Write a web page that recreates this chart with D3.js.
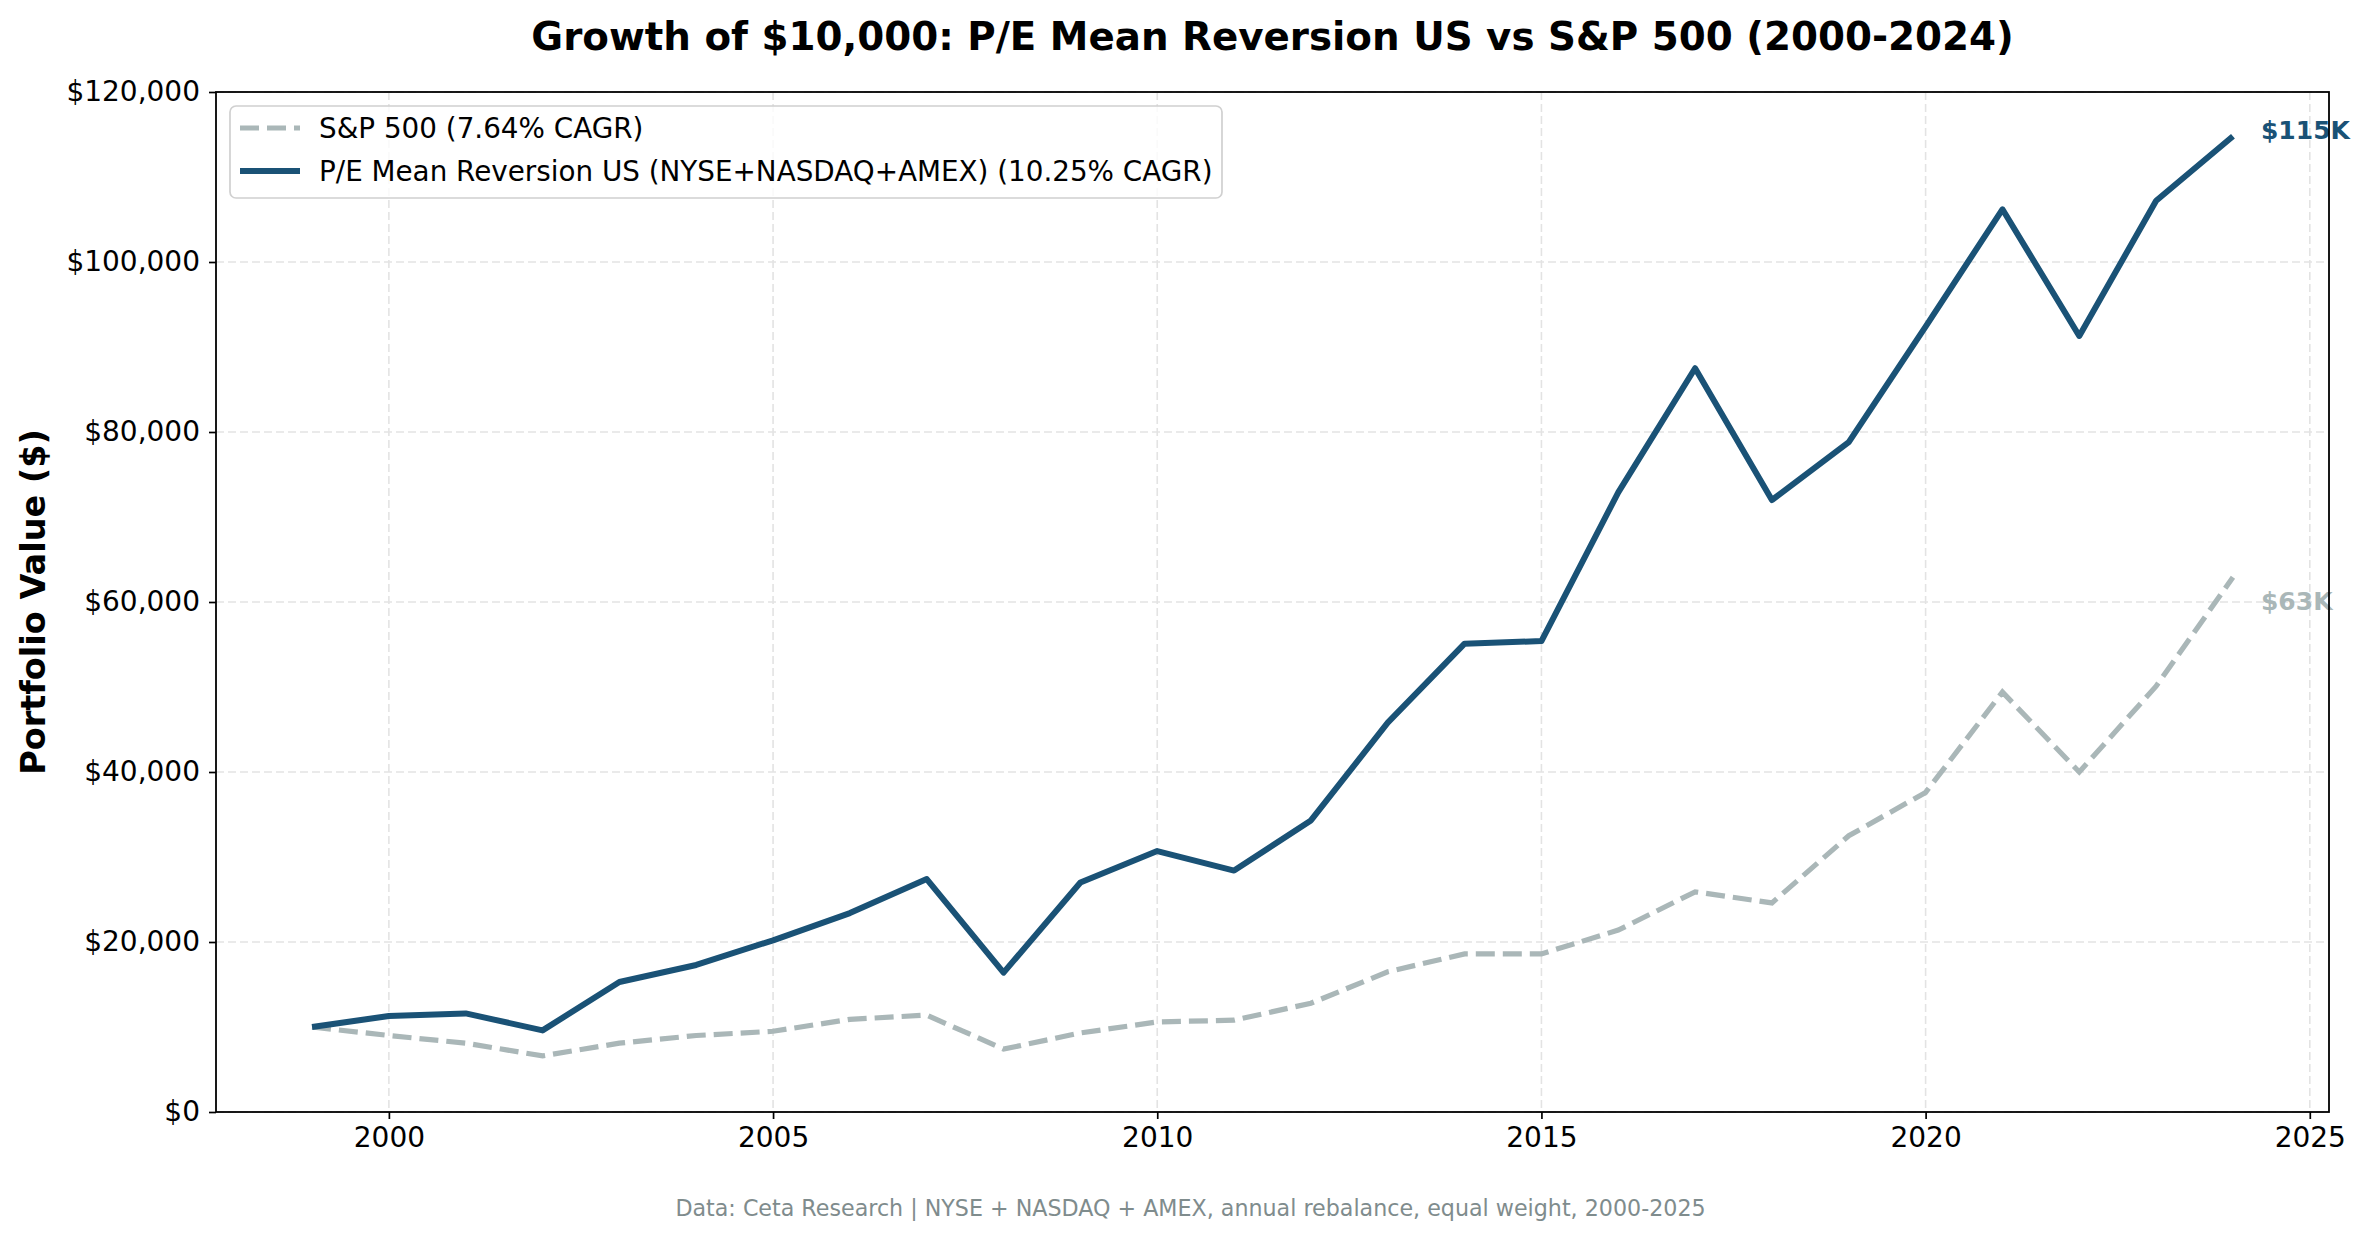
<!DOCTYPE html>
<html>
<head>
<meta charset="utf-8">
<script src="https://cdn.jsdelivr.net/npm/d3@7/dist/d3.min.js"></script>
<style>
    body { margin: 0; background: #fff; }
    svg { display: block; font-family: 'DejaVu Sans', sans-serif; }
</style>
</head>
<body>
<svg id="chart" width="2369" height="1239"></svg>
<script>
// values
const years = d3.range(1999, 2025)
const strategyValues = [
    10000, 11300, 11600, 9600, 15300, 17300, 20200, 23400, 27400, 16400,
    27000, 30700, 28400, 34300, 45800, 55100, 55400, 72900, 87500, 72000,
    78800, 92400, 106200, 91300, 107200, 114800
]
const spValues = [
    10000, 9000, 8100, 6600, 8100, 9000, 9500, 10900, 11400, 7400,
    9300, 10600, 10800, 12800, 16500, 18600, 18600, 21400, 25900, 24600,
    32500, 37600, 49400, 40000, 50100, 62900
]
const xTicks = [2000, 2005, 2010, 2015, 2020, 2025]
const yTicks = [0, 20000, 40000, 60000, 80000, 100000, 120000]
const seriesNames = ['S&P 500 (7.64% CAGR)', 'P/E Mean Reversion US (NYSE+NASDAQ+AMEX) (10.25% CAGR)']
const endLabels = ['$63K', '$115K']

const STRATEGY_COLOR = '#1a5276'
const SP_COLOR = '#aab7b8'
const GRID_COLOR = '#e3e3e3'

const margin = { top: 92, right: 40, bottom: 127, left: 216 }
const W = 2369, H = 1239
const plotW = W - margin.left - margin.right
const plotH = H - margin.top - margin.bottom

const svg = d3.select('#chart')

const x = d3.scaleLinear().domain([1997.75, 2025.25]).range([0, plotW])
const y = d3.scaleLinear().domain([0, 120000]).range([plotH, 0])

const g = svg.append('g').attr('transform', `translate(${margin.left},${margin.top})`)

// grid
g.append('g').selectAll('line')
    .data(xTicks)
    .join('line')
    .attr('x1', d => x(d)).attr('x2', d => x(d))
    .attr('y1', 0).attr('y2', plotH)
    .attr('stroke', GRID_COLOR).attr('stroke-width', 1.6)
    .attr('stroke-dasharray', '8,4')

g.append('g').selectAll('line')
    .data(yTicks)
    .join('line')
    .attr('x1', 0).attr('x2', plotW)
    .attr('y1', d => y(d)).attr('y2', d => y(d))
    .attr('stroke', GRID_COLOR).attr('stroke-width', 1.6)
    .attr('stroke-dasharray', '8,4')

// lines
const line = d3.line().x(d => x(d[0])).y(d => y(d[1]))

g.append('path')
    .datum(years.map((yr, i) => [yr, spValues[i]]))
    .attr('d', line)
    .attr('fill', 'none')
    .attr('stroke', SP_COLOR)
    .attr('stroke-width', 5.2)
    .attr('stroke-dasharray', '19,8')

g.append('path')
    .datum(years.map((yr, i) => [yr, strategyValues[i]]))
    .attr('d', line)
    .attr('fill', 'none')
    .attr('stroke', STRATEGY_COLOR)
    .attr('stroke-width', 6)
    .attr('stroke-linejoin', 'round')

// end labels
const lastYear = years[years.length - 1]
g.append('text')
    .attr('x', x(lastYear) + 28)
    .attr('y', y(strategyValues[strategyValues.length - 1]) - 6)
    .attr('dominant-baseline', 'central')
    .attr('font-size', 25).attr('font-weight', 'bold')
    .attr('fill', STRATEGY_COLOR)
    .text(endLabels[1])

g.append('text')
    .attr('x', x(lastYear) + 28)
    .attr('y', y(spValues[spValues.length - 1]) + 24)
    .attr('dominant-baseline', 'central')
    .attr('font-size', 25).attr('font-weight', 'bold')
    .attr('fill', SP_COLOR)
    .text(endLabels[0])

// axes
const xAxis = g.append('g')
    .attr('transform', `translate(0,${plotH})`)
    .call(d3.axisBottom(x).tickValues(xTicks).tickFormat(d3.format('d')).tickSizeOuter(0).tickSize(7).tickPadding(8))
const yAxis = g.append('g')
    .call(d3.axisLeft(y).tickValues(yTicks).tickFormat(d => '$' + d3.format(',')(d)).tickSizeOuter(0).tickSize(7).tickPadding(9))

;[xAxis, yAxis].forEach(a => {
    a.select('.domain').remove()
    a.selectAll('.tick line').attr('stroke', '#000').attr('stroke-width', 1.7)
    a.selectAll('.tick text').attr('font-size', 28).attr('fill', '#000')
        .attr('font-family', 'DejaVu Sans')
})

// frame
g.append('rect')
    .attr('width', plotW).attr('height', plotH)
    .attr('fill', 'none').attr('stroke', '#000').attr('stroke-width', 1.8)

// legend
const legend = g.append('g').attr('transform', 'translate(14,14)')
legend.append('rect')
    .attr('width', 992).attr('height', 92).attr('rx', 6)
    .attr('fill', 'rgba(255,255,255,0.8)')
    .attr('stroke', '#d0d0d0').attr('stroke-width', 1.7)

const legendRows = [
    { name: seriesNames[0], color: SP_COLOR, dash: '19,8', width: 5.2 },
    { name: seriesNames[1], color: STRATEGY_COLOR, dash: null, width: 6 }
]
legendRows.forEach((row, i) => {
    const ry = 22 + i * 43
    legend.append('line')
        .attr('x1', 10).attr('x2', 70)
        .attr('y1', ry).attr('y2', ry)
        .attr('stroke', row.color).attr('stroke-width', row.width)
        .attr('stroke-dasharray', row.dash)
    legend.append('text')
        .attr('x', 89).attr('y', ry)
        .attr('dominant-baseline', 'central')
        .attr('font-size', 27.8)
        .text(row.name)
})

// titles
svg.append('text')
    .attr('x', margin.left + plotW / 2).attr('y', 50)
    .attr('text-anchor', 'middle')
    .attr('font-size', 38.8).attr('font-weight', 'bold')
    .text('Growth of $10,000: P/E Mean Reversion US vs S&P 500 (2000-2024)')

svg.append('text')
    .attr('transform', `translate(33,${margin.top + plotH / 2}) rotate(-90)`)
    .attr('text-anchor', 'middle')
    .attr('dominant-baseline', 'central')
    .attr('font-size', 33.5).attr('font-weight', 'bold')
    .text('Portfolio Value ($)')

svg.append('text')
    .attr('x', W / 2 + 6).attr('y', 1216)
    .attr('text-anchor', 'middle')
    .attr('font-size', 22.2).attr('fill', '#7f8c8d')
    .text('Data: Ceta Research | NYSE + NASDAQ + AMEX, annual rebalance, equal weight, 2000-2025')
</script>
</body>
</html>
